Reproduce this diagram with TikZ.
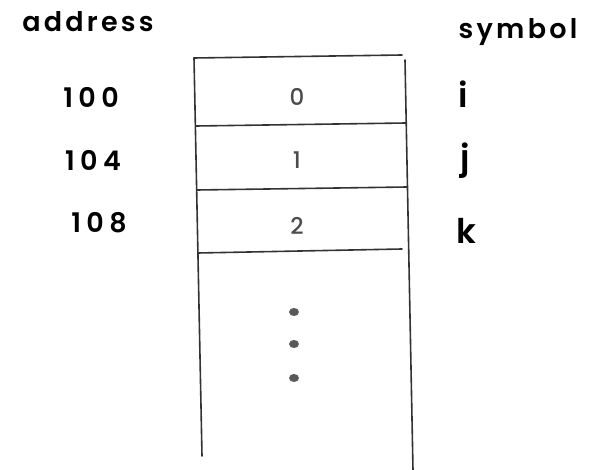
\documentclass[tikz,border=0pt]{standalone}
\usepackage{fontspec}
\setmainfont{Poppins}[UprightFont=* Medium]
\newfontfamily\labelfont{Poppins}[UprightFont=* SemiBold]
\begin{document}
\begin{tikzpicture}[x=1pt,y=-1pt,
  pen/.style={draw=black!80, line width=1.6pt, line cap=round},
  lbl/.style={font=\labelfont\fontsize{27}{30}\selectfont\addfontfeature{LetterSpace=12}, text=black, inner sep=0pt, anchor=center},
  num/.style={font=\labelfont\fontsize{27}{30}\selectfont\addfontfeature{LetterSpace=20}, text=black, inner sep=0pt, anchor=center},
  sym/.style={font=\labelfont\fontsize{34}{36}\selectfont, text=black, inner sep=0pt, anchor=center},
  cell/.style={font=\fontsize{23}{26}\selectfont, text=black!70, inner sep=0pt, anchor=center},
  dotc/.style={fill=black!65, draw=none}]
\useasboundingbox (0,0) rectangle (595,470);
% column of memory cells
\coordinate (tl) at (194,58);
\coordinate (tr) at (402,55);
\coordinate (bl) at (202,456);
\coordinate (br) at (413,470);
\draw[pen] (tl) -- (tr);
\draw[pen] (tl) -- (bl);
\draw[pen] (405,60) -- (br);
\draw[pen] (196,126) -- (406,123);
\draw[pen] (197,190) -- (407,187);
\draw[pen] (198,253) -- (402,249);
% headers
\node[lbl] (haddr) at (88,22) {address};
\node[lbl] (hsym) at (518,32) {symbol};
% addresses
\node[num] (a100) at (91,97) {100};
\node[num] (a104) at (93,160) {104};
\node[num] (a108) at (99,223) {108};
% values
\node[cell] (v0) at (297,97) {0};
\node[cell] (v1) at (297,160) {1};
\node[cell] (v2) at (297,226) {2};
% symbols
\node[sym] (si) at (463,94) {i};
\node[sym] (sj) at (465,161) {j};
\node[sym] (sk) at (466,231) {k};
% ellipsis dots
\fill[dotc] (294,312) ellipse (5 and 4);
\fill[dotc] (294,344) ellipse (5 and 4);
\fill[dotc] (294,378) ellipse (5 and 4);
\end{tikzpicture}
\end{document}
